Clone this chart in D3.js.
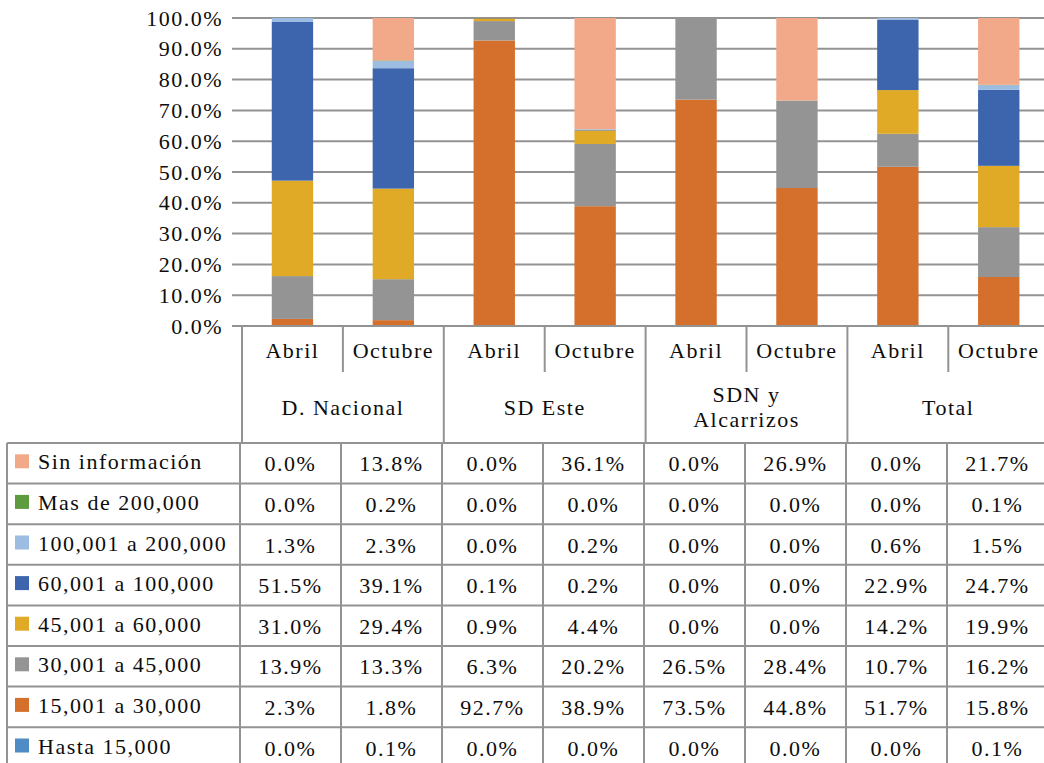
<!DOCTYPE html>
<html>
<head>
<meta charset="utf-8">
<script src="https://cdn.jsdelivr.net/npm/d3@7"></script>
<style>
  html, body { margin: 0; padding: 0; background: #fff; }
  svg text { font-family: "Liberation Serif", "Times New Roman", serif; fill: #0d0d0d; }
</style>
</head>
<body>
<svg id="chart" width="1044" height="763"></svg>
<script>
// Groups and periods (x categories)
const groups = ["D. Nacional", "SD Este", "SDN y Alcarrizos", "Total"];
const groupLines = [["D. Nacional"], ["SD Este"], ["SDN y", "Alcarrizos"], ["Total"]];
const periods = ["Abril", "Octubre"];

// Income ranges, bottom of stack first
const seriesNames = [
  "Hasta 15,000", "15,001 a 30,000", "30,001 a 45,000", "45,001 a 60,000",
  "60,001 a 100,000", "100,001 a 200,000", "Mas de 200,000", "Sin información"
];
const seriesColors = [
  "#4f8bc4", "#d4702b", "#949494", "#e0aa27",
  "#3d65ad", "#9cbce2", "#5e9a3e", "#f2a98a"
];

// Percent values per column: DN Abr, DN Oct, SDE Abr, SDE Oct, SDN Abr, SDN Oct, Total Abr, Total Oct
const hasta15000   = [0.0, 0.1, 0.0, 0.0, 0.0, 0.0, 0.0, 0.1];
const r15000_30000 = [2.3, 1.8, 92.7, 38.9, 73.5, 44.8, 51.7, 15.8];
const r30000_45000 = [13.9, 13.3, 6.3, 20.2, 26.5, 28.4, 10.7, 16.2];
const r45000_60000 = [31.0, 29.4, 0.9, 4.4, 0.0, 0.0, 14.2, 19.9];
const r60000_100000 = [51.5, 39.1, 0.1, 0.2, 0.0, 0.0, 22.9, 24.7];
const r100000_200000 = [1.3, 2.3, 0.0, 0.2, 0.0, 0.0, 0.6, 1.5];
const masDe200000  = [0.0, 0.2, 0.0, 0.0, 0.0, 0.0, 0.0, 0.1];
const sinInformacion = [0.0, 13.8, 0.0, 36.1, 0.0, 26.9, 0.0, 21.7];

const seriesValues = [hasta15000, r15000_30000, r30000_45000, r45000_60000,
  r60000_100000, r100000_200000, masDe200000, sinInformacion];

const yTicks = d3.range(0, 1.0001, 0.1);

// ---- build rows for d3.stack ----
const columns = [];
groups.forEach(g => periods.forEach(p => columns.push(g + "|" + p)));
const rows = columns.map((c, i) => {
  const r = { key: c };
  seriesNames.forEach((s, j) => { r[s] = seriesValues[j][i] / 100; });
  return r;
});

const svg = d3.select("#chart");
const font = 22, spacing = "1.5px";

const plotLeft = 242, colStep = 100.9;
const yTop = 18, yBottom = 326;

const x = d3.scaleBand()
  .domain(columns)
  .range([plotLeft, plotLeft + colStep * columns.length])
  .paddingInner(0.59)
  .paddingOuter(0.295);

const y = d3.scaleLinear().domain([0, 1]).range([yBottom, yTop]);
const color = d3.scaleOrdinal().domain(seriesNames).range(seriesColors);

const gridColor = "#939393";

// gridlines
svg.append("g")
  .selectAll("line")
  .data(yTicks)
  .join("line")
  .attr("x1", 232).attr("x2", 1044)
  .attr("y1", d => y(d)).attr("y2", d => y(d))
  .attr("stroke", gridColor).attr("stroke-width", 2);

// y-axis labels
const yAxis = d3.axisLeft(y).tickValues(yTicks).tickFormat(d3.format(".1%")).tickSize(0).tickPadding(0);
const ya = svg.append("g").attr("transform", "translate(223,0)").call(yAxis);
ya.select(".domain").remove();
ya.selectAll("text")
  .style("font-family", "'Liberation Serif', serif")
  .attr("font-size", font).attr("letter-spacing", spacing).attr("fill", "#0d0d0d");

// stacked bars
const stack = d3.stack().keys(seriesNames).order(d3.stackOrderNone).offset(d3.stackOffsetNone);
const stacked = stack(rows);
svg.append("g")
  .selectAll("g")
  .data(stacked)
  .join("g")
  .attr("fill", d => color(d.key))
  .selectAll("rect")
  .data(d => d)
  .join("rect")
  .attr("x", d => x(d.data.key))
  .attr("width", x.bandwidth())
  .attr("y", d => y(Math.min(1, d[1])))
  .attr("height", d => Math.max(0, y(d[0]) - y(Math.min(1, d[1]))));

// category axis: baseline + separators
const axisG = svg.append("g");
axisG.append("line")
  .attr("x1", plotLeft).attr("x2", 1044)
  .attr("y1", yBottom).attr("y2", yBottom)
  .attr("stroke", gridColor).attr("stroke-width", 2);

const colEdge = i => plotLeft + i * colStep;
for (let i = 0; i <= columns.length; i++) {
  const long = i % 2 === 0;
  axisG.append("line")
    .attr("x1", colEdge(i)).attr("x2", colEdge(i))
    .attr("y1", yBottom).attr("y2", long ? 443 : 372)
    .attr("stroke", gridColor).attr("stroke-width", 2);
}

// period labels
axisG.selectAll("text.period")
  .data(columns)
  .join("text")
  .attr("class", "period")
  .attr("x", d => x(d) + x.bandwidth() / 2)
  .attr("y", 358)
  .attr("text-anchor", "middle")
  .attr("font-size", font).attr("letter-spacing", spacing)
  .text(d => d.split("|")[1]);

// group labels
groups.forEach((g, gi) => {
  const cx = (colEdge(gi * 2) + colEdge(gi * 2 + 2)) / 2;
  const lines = groupLines[gi];
  const t = axisG.append("text")
    .attr("x", cx)
    .attr("text-anchor", "middle")
    .attr("font-size", font).attr("letter-spacing", spacing);
  if (lines.length === 1) {
    t.attr("y", 415).text(lines[0]);
  } else {
    lines.forEach((l, li) => {
      t.append("tspan").attr("x", cx).attr("y", 402 + li * 25).text(l);
    });
  }
});

// ---- data table ----
const tableTop = 443, rowH = 40.6;
const tableLeft = 7, labelRight = 240, tableStep = 101;
const tableRows = seriesNames.slice().reverse();
const tableCols = d3.range(columns.length);
const tbl = svg.append("g");

// horizontal borders
d3.range(tableRows.length + 1).forEach(i => {
  tbl.append("line")
    .attr("x1", tableLeft).attr("x2", 1044)
    .attr("y1", tableTop + i * rowH).attr("y2", tableTop + i * rowH)
    .attr("stroke", gridColor).attr("stroke-width", 2);
});
// vertical borders
[tableLeft].concat(d3.range(columns.length + 1).map(i => labelRight + i * tableStep)).forEach(xv => {
  tbl.append("line")
    .attr("x1", xv).attr("x2", xv)
    .attr("y1", tableTop).attr("y2", 763)
    .attr("stroke", gridColor).attr("stroke-width", 2);
});

const fmt = d3.format(".1f");
tableRows.forEach((name, ri) => {
  const si = seriesNames.indexOf(name);
  const cy = tableTop + ri * rowH + rowH / 2;
  tbl.append("rect")
    .attr("x", 15).attr("y", cy - 9).attr("width", 14).attr("height", 14)
    .attr("fill", color(name));
  tbl.append("text")
    .attr("x", 38).attr("y", cy + 6)
    .attr("font-size", font).attr("letter-spacing", spacing)
    .text(name);
  tableCols.forEach(ci => {
    tbl.append("text")
      .attr("x", labelRight + ci * tableStep + tableStep / 2)
      .attr("y", cy + 8)
      .attr("text-anchor", "middle")
      .attr("font-size", font).attr("letter-spacing", spacing)
      .text(fmt(seriesValues[si][ci]) + "%");
  });
});
</script>
</body>
</html>
